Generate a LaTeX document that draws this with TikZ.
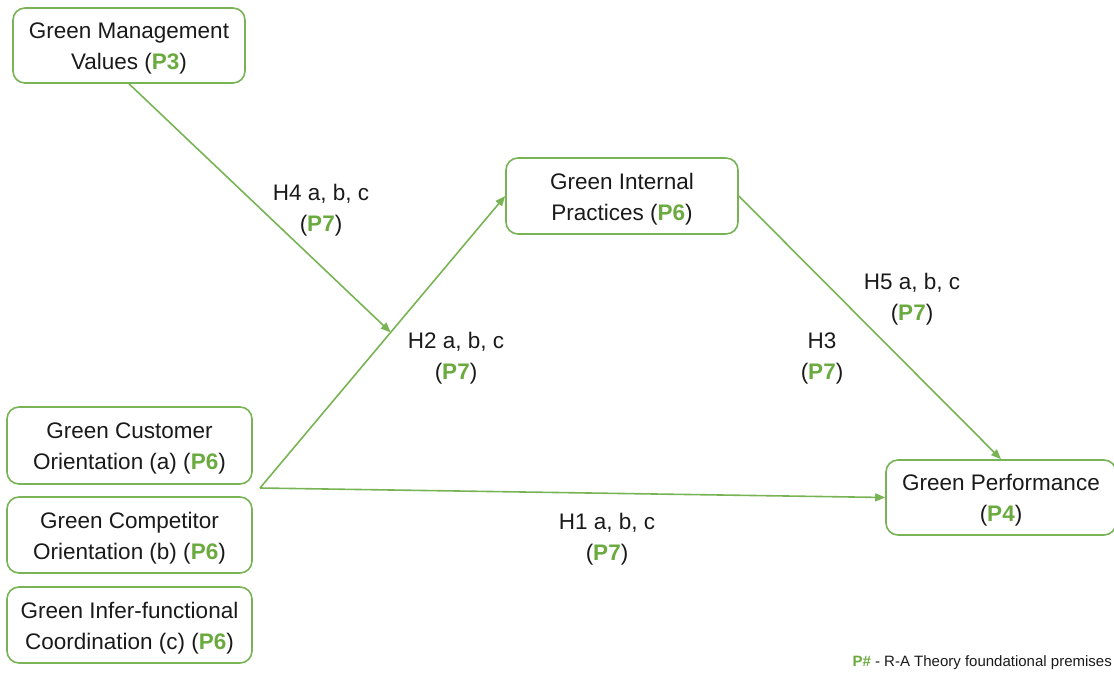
\documentclass[tikz,border=0pt]{standalone}
\usepackage{fontspec}
\setmainfont{Liberation Sans}
\usetikzlibrary{arrows.meta,calc}
\definecolor{grn}{HTML}{78B455}
\definecolor{grntxt}{HTML}{6AAA3F}
\definecolor{ink}{HTML}{1A1A1A}
\newcommand{\prem}[1]{\textcolor{grntxt}{\textbf{#1}}}
% tall strut on the first line sets the text a little lower in its box
\newcommand{\topstrut}{\rule{0pt}{22.5pt}}
\tikzset{
  box/.style={draw=grn, line width=1.6pt, rounded corners=12pt, fill=white,
    align=center, text=ink, inner sep=0pt,
    font=\fontsize{22.5}{31}\selectfont},
  link/.style={draw=grn, line width=1.6pt, -{Triangle[length=10pt,width=8pt]}},
  lbl/.style={align=center, text=ink, font=\fontsize{22.5}{31}\selectfont}
}
\begin{document}
\begin{tikzpicture}[x=1pt,y=-1pt]
\useasboundingbox (0,0) rectangle (1114,673);
% constructs
\node[box, minimum width=232pt, minimum height=75pt] (gmv) at (129,45.5)
  {\topstrut Green Management\\Values (\prem{P3})};
\node[box, minimum width=232pt, minimum height=76pt] (gip) at (622,196)
  {\topstrut Green Internal\\Practices (\prem{P6})};
\node[box, minimum width=230pt, minimum height=75pt] (gp) at (1001,497.5)
  {\topstrut Green Performance\\(\prem{P4})};
\node[box, minimum width=245pt, minimum height=77pt] (gco) at (129.5,445.5)
  {\topstrut Green Customer\\Orientation (a) (\prem{P6})};
\node[box, minimum width=245pt, minimum height=76pt] (gcomp) at (129.5,535)
  {\topstrut Green Competitor\\Orientation (b) (\prem{P6})};
\node[box, minimum width=245pt, minimum height=76pt] (gic) at (129.5,625)
  {\topstrut Green Infer-functional\\Coordination (c) (\prem{P6})};
% shared origin of the orientation paths
\coordinate (src) at (260,488);
\coordinate (mod) at ($(src)!0.533!(gip.west)$);
% paths
\draw[link] (src) -- (gip.west);
\draw[link] (src) -- (gp.west);
\draw[link] (gmv.south) -- (mod);
\draw[link] (gip.east) -- (gp.north);
% hypothesis labels
\node[lbl] (h4) at (321,210.5) {H4 a, b, c\\(\prem{P7})};
\node[lbl] (h2) at (456,358.5) {H2 a, b, c\\(\prem{P7})};
\node[lbl] (h5) at (912,299) {H5 a, b, c\\(\prem{P7})};
\node[lbl] (h3) at (822,358.5) {H3\\(\prem{P7})};
\node[lbl] (h1) at (607,539.5) {H1 a, b, c\\(\prem{P7})};
% legend
\node[anchor=east, text=ink, inner sep=0pt, font=\fontsize{15}{17}\selectfont]
  (legend) at (1112,663) {\prem{P\#} - R-A Theory foundational premises};
\end{tikzpicture}
\end{document}
